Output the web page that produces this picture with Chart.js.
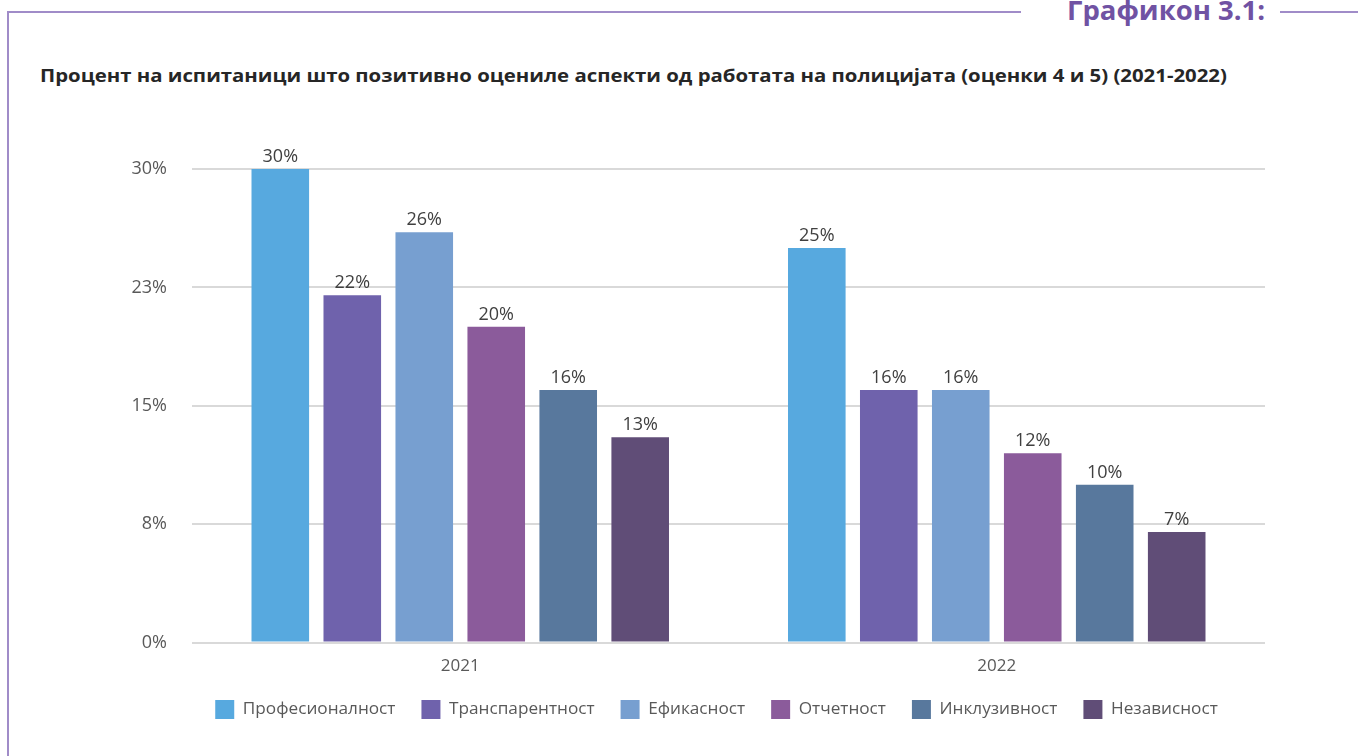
<!DOCTYPE html>
<html>
<head>
<meta charset="utf-8">
<script src="https://cdn.jsdelivr.net/npm/chart.js@4.4.1/dist/chart.umd.min.js"></script>
<style>
    html, body { margin: 0; padding: 0; background: #fff; }
    body { width: 1358px; height: 756px; position: relative; overflow: hidden; font-family: "Open Sans", sans-serif; }
    .frame-top { position: absolute; left: 7px; top: 11px; width: 1014px; height: 2px; background: #a08cc8; }
    .frame-top-right { position: absolute; left: 1280px; top: 11px; width: 78px; height: 2px; background: #a08cc8; }
    .frame-left { position: absolute; left: 7px; top: 11px; width: 2px; height: 745px; background: #a08cc8; }
    .header { position: absolute; left: 1067px; top: -9px; font-size: 27.5px; font-weight: 700; color: #7052a3; white-space: nowrap; }
    .title { position: absolute; left: 40px; top: 63px; font-size: 17.5px; font-weight: 700; color: #262626; white-space: nowrap;
             transform: scaleX(1.163); transform-origin: left center; }
    .chart-box { position: absolute; left: 0; top: 0; width: 1358px; height: 756px; }
</style>
</head>
<body>
    <div class="frame-top"></div>
    <div class="frame-top-right"></div>
    <div class="frame-left"></div>
    <div class="header">Графикон 3.1:</div>
    <div class="title">Процент на испитаници што позитивно оцениле аспекти од работата на полицијата (оценки 4 и 5) (2021-2022)</div>

    <div class="chart-box">
        <canvas id="myChart"></canvas>
    </div>

    <script>
        // податоци од графиконот
        const years = ['2021', '2022'];
        const seriesNames = ['Професионалност', 'Транспарентност', 'Ефикасност', 'Отчетност', 'Инклузивност', 'Независност'];
        const professionalism = [30, 25];
        const transparency = [22, 16];
        const efficiency = [26, 16];
        const accountability = [20, 12];
        const inclusiveness = [16, 10];
        const independence = [13, 7];
        const yTickLabels = ['0%', '8%', '15%', '23%', '30%'];

        const seriesValues = [professionalism, transparency, efficiency, accountability, inclusiveness, independence];
        const colors = ['#57a9df', '#6f62ac', '#779fd0', '#8b5b9b', '#58789d', '#604d77'];

        // ознаки над столбовите
        const barLabels = {
            id: 'barLabels',
            afterDatasetsDraw(chart) {
                const ctx = chart.ctx;
                ctx.save();
                ctx.font = '18px "Open Sans"';
                ctx.fillStyle = '#404040';
                ctx.textAlign = 'center';
                ctx.textBaseline = 'bottom';
                chart.data.datasets.forEach((ds, i) => {
                    chart.getDatasetMeta(i).data.forEach((bar, j) => {
                        ctx.fillText(ds.data[j] + '%', bar.x, bar.y - 3);
                    });
                });
                ctx.restore();
            }
        };

        // легендата е малку поместена надесно и нагоре како во оригиналот
        const legendShift = {
            id: 'legendShift',
            afterLayout(chart) {
                const lg = chart.legend;
                lg.left += 34; lg.right += 34;
                lg.top -= 7; lg.bottom -= 7;
            }
        };

        const ctx = document.getElementById('myChart').getContext('2d');
        const myChart = new Chart(ctx, {
            type: 'bar',
            data: {
                labels: years,
                datasets: seriesNames.map((name, i) => ({
                    label: name,
                    data: seriesValues[i],
                    backgroundColor: colors[i],
                    borderWidth: 0,
                    categoryPercentage: 0.805,
                    barPercentage: 0.8
                }))
            },
            options: {
                responsive: true,
                maintainAspectRatio: false,
                animation: false,
                layout: {
                    padding: { left: 100, right: 93, top: 169, bottom: 20 }
                },
                plugins: {
                    legend: {
                        position: 'bottom',
                        labels: {
                            boxWidth: 19,
                            boxHeight: 19,
                            padding: 26,
                            color: '#595959',
                            font: { family: 'Open Sans', size: 17.2 }
                        }
                    },
                    tooltip: { enabled: false }
                },
                scales: {
                    x: {
                        grid: { display: false },
                        border: { display: false },
                        ticks: { color: '#595959', font: { family: 'Open Sans', size: 17 }, padding: 5 }
                    },
                    y: {
                        min: 0,
                        max: 30,
                        afterFit(scale) { scale.width = 92; },
                        grid: { color: '#d9d9d9', lineWidth: 2, drawTicks: false },
                        border: { display: false },
                        ticks: {
                            stepSize: 7.5,
                            padding: 25,
                            color: '#595959',
                            font: { family: 'Open Sans', size: 18 },
                            callback: (v, i) => yTickLabels[i]
                        }
                    }
                }
            },
            plugins: [barLabels, legendShift]
        });
    </script>
</body>
</html>
